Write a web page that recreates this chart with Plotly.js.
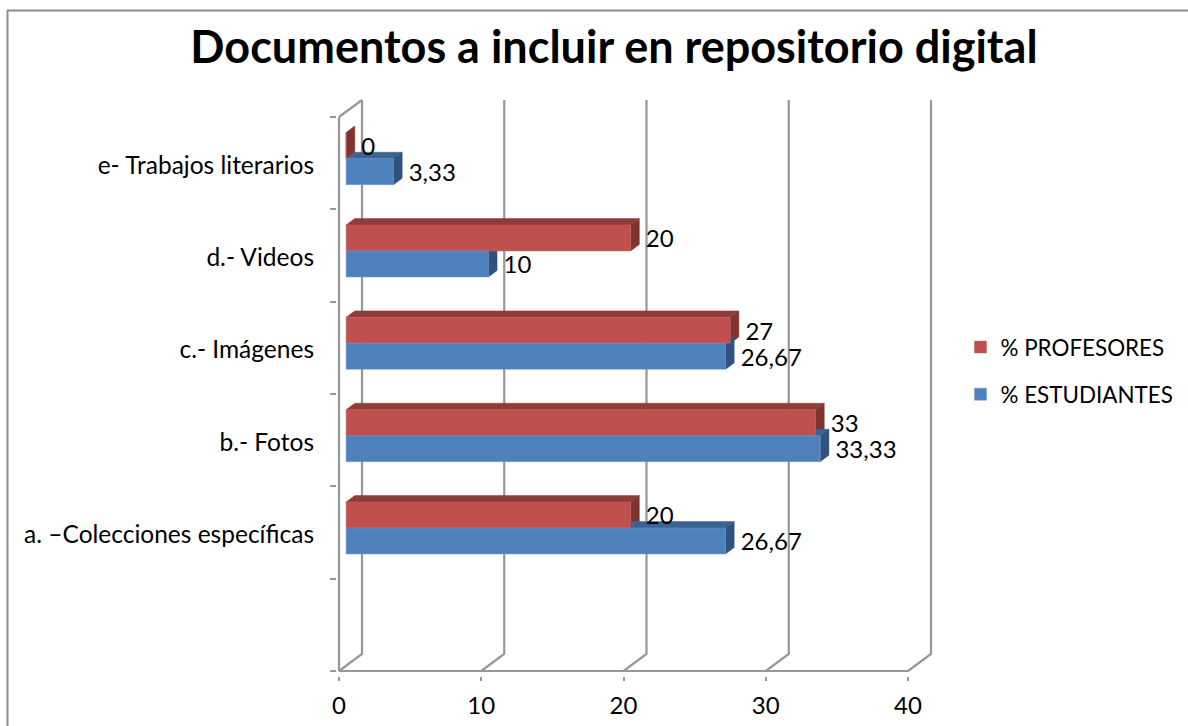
<!DOCTYPE html>
<html>
<head>
<meta charset="utf-8">
<script src="https://cdn.plot.ly/plotly-3.0.1.min.js"></script>
<style>html,body{margin:0;padding:0;background:#fff}</style>
</head>
<body>
<div id="chart" style="width:1188px;height:726px"></div>
<script>
var categories = ["a. –Colecciones específicas", "b.- Fotos", "c.- Imágenes", "d.- Videos", "e- Trabajos literarios"];
var profesores = [20, 33, 27, 20, 0];
var estudiantes = [26.67, 33.33, 26.67, 10, 3.33];
var xTicks = [0, 10, 20, 30, 40];
var yTicks = [0, 1, 2, 3, 4, 5, 6];
var titleText = "Documentos a incluir en repositorio digital";

var FONT = "Lato, Carlito, Calibri, sans-serif";
var W = 1188, H = 726;
// front plane of the 3D box in pixels, and the slightly larger plot area that holds the back wall
var L = 339, R = 908, T = 117, B = 671;
var PL = 337, PR = 937, PT = 94, PB = 676;
var pxX = (R - L) / 40, pxY = (B - T) / 6;
var xRange = [(PL - L) / pxX, (PR - L) / pxX], yRange = [(B - PB) / pxY, (B - PT) / pxY];
var wallDx = 23 / pxX, wallDy = 17 / pxY;
var barDx = 8.7 / pxX, barDy = 6.4 / pxY;
var barH = 26 / pxY, barBase = 0.5, rowShift = 0.049;
var labelGap = 1.07, labelDrop = 0.038;

function poly(xs, ys, color) {
  return {type: "scatter", mode: "lines", x: xs.concat(xs[0]), y: ys.concat(ys[0]), fill: "toself",
    fillcolor: color, line: {color: color, width: 0.5}, hoverinfo: "skip", showlegend: false, cliponaxis: false};
}
function sideFace(v, lo, color) {
  var e = barBase + v;
  return poly([e, e + barDx, e + barDx, e], [lo, lo + barDy, lo + barH + barDy, lo + barH], color);
}
function topFace(v, lo, color) {
  var s = barBase, e = barBase + v, t = lo + barH;
  return poly([s, s + barDx, e + barDx, e], [t, t + barDy, t + barDy, t], color);
}
function wireLine(xs, ys) {
  return {type: "scatter", mode: "lines", x: xs, y: ys, line: {color: gridColor, width: 2.2},
    hoverinfo: "skip", showlegend: false, cliponaxis: false};
}
var gridColor = "#979797";
var traces = [];
// back wall and floor lines
xTicks.forEach(function (v) {
  traces.push(wireLine([v, v + wallDx, v + wallDx], [0, wallDy, yTicks[yTicks.length - 1] + wallDy]));
});
traces.push(wireLine([0, wallDx], [6, 6 + wallDy]));
// front axis lines
traces.push(wireLine([0, 40], [0, 0]));
traces.push(wireLine([0, 0], [0, 6]));

// depth faces: order matters so the fronts hide what they should
categories.forEach(function (c, i) {
  var mid = i + 1.5 + rowShift;
  traces.push(sideFace(profesores[i], mid, "#7f3432"));
  traces.push(topFace(profesores[i], mid, "#8e3b39"));
});
categories.forEach(function (c, i) {
  var mid = i + 1.5 + rowShift;
  traces.push(topFace(estudiantes[i], mid - barH, "#3a6293"));
  traces.push(sideFace(estudiantes[i], mid - barH, "#30527f"));
});

var yBars = categories.map(function (c, i) { return i + 1.5 + rowShift; });
// front faces live in the overlaid subplot, above the depth faces
traces.push({type: "bar", orientation: "h", name: "% PROFESORES", x: profesores, y: yBars, base: barBase,
  width: barH, offset: 0, marker: {color: "#c0504d", line: {color: "#c9625f", width: 0.5}}, xaxis: "x2", yaxis: "y2",
  legendgroup: "p", hoverinfo: "x+name"});
traces.push({type: "bar", orientation: "h", name: "% ESTUDIANTES", x: estudiantes, y: yBars, base: barBase,
  width: barH, offset: -barH, marker: {color: "#4f81bd", line: {color: "#6f9ad0", width: 0.5}}, xaxis: "x2", yaxis: "y2",
  legendgroup: "e", hoverinfo: "x+name"});

function labelTrace(vals, dir) {
  return {type: "scatter", mode: "text", xaxis: "x2", yaxis: "y2", cliponaxis: false, showlegend: false,
    hoverinfo: "skip", textposition: "middle right",
    x: vals.map(function (v) { return barBase + v + labelGap; }),
    y: yBars.map(function (y) { return y + dir * barH / 2 - labelDrop; }),
    text: vals.map(function (v) { return String(v).replace(".", ","); }),
    textfont: {family: FONT, size: 24, color: "#000"}};
}
traces.push(labelTrace(profesores, 1));
traces.push(labelTrace(estudiantes, -1));

function pX(px) { return (px - PL) / (PR - PL); }
function pY(py) { return (PB - py) / (PB - PT); }

var layout = {
  width: W, height: H, autosize: false,
  margin: {l: PL, r: W - PR, t: PT, b: H - PB, pad: 0, autoexpand: false},
  paper_bgcolor: "#fff", plot_bgcolor: "rgba(0,0,0,0)",
  barmode: "overlay",
  font: {family: FONT, color: "#000"},
  title: {text: "<b>" + titleText + "</b>", xref: "paper", x: pX(614), xanchor: "center",
    yref: "container", y: 1 - 47 / H, yanchor: "middle", font: {family: FONT, size: 45, color: "#000"}},
  xaxis: {range: xRange, tickvals: xTicks, ticks: "outside", ticklen: 4, tickwidth: 2, tickcolor: gridColor,
    showgrid: false, zeroline: false, showline: false,
    tickfont: {family: FONT, size: 24, color: "#000"}, ticklabelstandoff: 4},
  yaxis: {range: yRange, tickvals: yTicks, ticktext: yTicks.map(function () { return ""; }), ticks: "outside",
    ticklen: 6, tickwidth: 2, tickcolor: gridColor, showgrid: false, zeroline: false, showline: false},
  xaxis2: {range: xRange, overlaying: "x", anchor: "y2", showticklabels: false, ticks: "", showgrid: false,
    zeroline: false, showline: false},
  yaxis2: {range: yRange, overlaying: "y", anchor: "x2", tickvals: categories.map(function (c, i) { return i + 1.48; }),
    ticktext: categories, ticks: "", showgrid: false, zeroline: false, showline: false,
    ticklabelstandoff: 22, tickfont: {family: FONT, size: 24.5, color: "#000"}},
  legend: {x: pX(960.5), xanchor: "left", y: pY(326), yanchor: "top", tracegroupgap: 15, bgcolor: "rgba(0,0,0,0)",
    font: {family: FONT, size: 22.4, color: "#000"}, itemwidth: 30},
  shapes: [
    {type: "line", xref: "paper", yref: "paper", x0: pX(7.5), x1: pX(7.5), y0: pY(10), y1: pY(726), line: {color: "#8c8c8c", width: 2}},
    {type: "line", xref: "paper", yref: "paper", x0: pX(7), x1: pX(1188), y0: pY(10.5), y1: pY(10.5), line: {color: "#8c8c8c", width: 2}}
  ]
};
Plotly.newPlot("chart", traces, layout, {displayModeBar: false, responsive: false});
</script>
</body>
</html>
